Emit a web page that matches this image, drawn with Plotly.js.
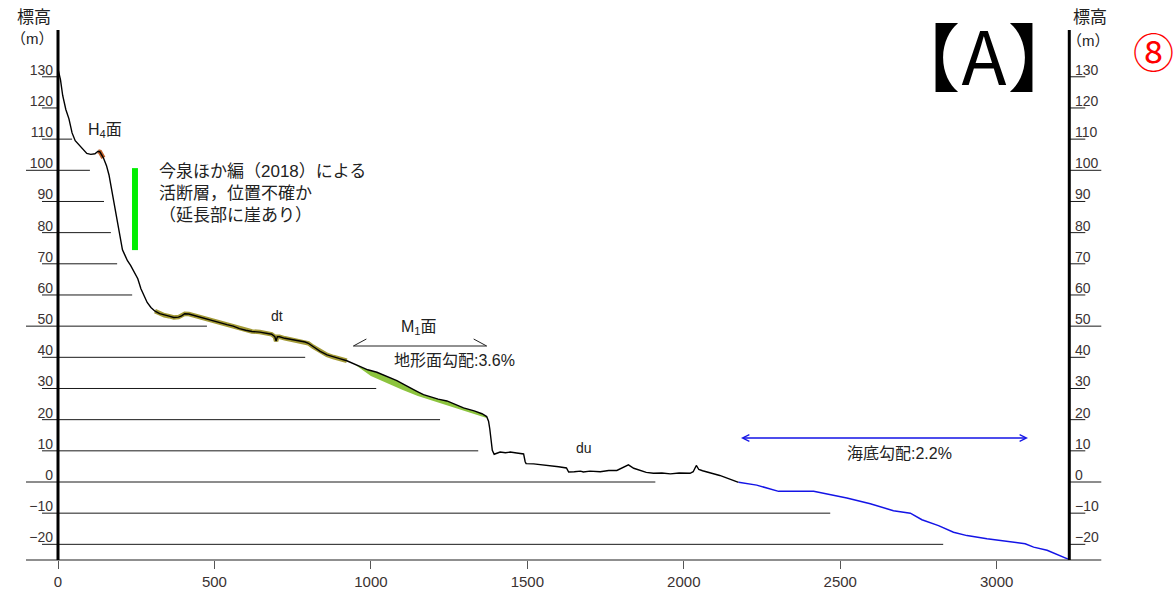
<!DOCTYPE html>
<html>
<head>
<meta charset="utf-8">
<script src="https://cdn.plot.ly/plotly-3.0.1.min.js"></script>
<style>
  html, body { margin: 0; padding: 0; background: #fff; }
  #chart { width: 1175px; height: 591px; }
</style>
</head>
<body>
<div id="chart"></div>
<script>
// Land surface profile: distance (m) and elevation (m)
const profileX = [0, 8, 15, 25, 35, 45, 55, 65, 80, 92, 105, 118, 128, 134, 145, 155, 163, 170, 178, 186, 194, 200, 206, 212, 222, 232, 245, 255, 265, 275, 285, 297, 310, 325, 340, 355, 370, 385, 395, 405, 418, 435, 455, 475, 500, 520, 540, 560, 580, 600, 620, 645, 665, 683, 693, 697, 701, 708, 725, 742, 765, 790, 800, 815, 838, 860, 880, 900, 923, 944, 965, 990, 1019, 1040, 1060, 1083, 1105, 1127, 1147, 1168, 1189, 1215, 1243, 1265, 1296, 1330, 1355, 1370, 1376, 1380, 1384, 1388, 1394, 1400, 1413, 1430, 1445, 1466, 1488, 1493, 1496, 1520, 1541, 1560, 1583, 1600, 1625, 1632, 1650, 1670, 1679, 1700, 1733, 1760, 1786, 1805, 1823, 1840, 1861, 1880, 1903, 1930, 1957, 1985, 2020, 2030, 2040, 2048, 2060, 2080, 2095, 2115, 2132, 2150, 2175];
const profileY = [132.5, 129, 124, 119.5, 116.5, 112, 109.5, 108.3, 106.8, 105.4, 105.1, 105.3, 106.1, 105.9, 104, 101.5, 98.5, 94.5, 90, 85, 80.5, 77, 74.5, 73.2, 71, 69.5, 67.3, 65.2, 62, 59.5, 57.6, 56, 54.8, 54, 53.5, 53.2, 52.8, 52.9, 53.3, 54, 53.9, 53.4, 52.9, 52.3, 51.7, 51.1, 50.5, 50, 49.2, 48.7, 48.3, 48.1, 47.8, 47.4, 46.6, 45.2, 46.6, 46.6, 46.1, 45.8, 45.4, 44.9, 44.5, 43.4, 41.9, 40.8, 40.1, 39.6, 38.9, 38, 36.9, 36, 35.2, 34.4, 33.4, 32.5, 31.3, 30, 29.1, 28, 27.3, 26.6, 26, 25, 23.8, 22.8, 21.9, 21, 19.5, 17, 13, 10.2, 8.9, 9.2, 9.6, 9.4, 9.6, 9.3, 9.0, 6.5, 5.9, 5.8, 5.6, 5.3, 5.1, 4.9, 4.5, 3.2, 3.3, 3.5, 3.2, 3.5, 3.3, 3.7, 3.7, 4.5, 5.5, 4.4, 3.6, 3.1, 2.8, 2.9, 2.6, 2.9, 2.8, 3.3, 5.3, 4.0, 3.6, 3.1, 2.6, 2.1, 1.5, 0.8, -0.1];

// Sea floor profile
const seabedX = [2175, 2233, 2303, 2415, 2521, 2596, 2670, 2724, 2761, 2814, 2862, 2905, 2969, 3091, 3118, 3161, 3232];
const seabedY = [-0.1, -1, -3, -3, -5.1, -7, -9.2, -10, -12.1, -14, -16.1, -17.2, -18.2, -19.8, -20.9, -21.9, -24.9];

// Base of the M1 terrace deposit
const m1BaseX = [944, 1000, 1050, 1100, 1150, 1200, 1250, 1300, 1370];
const m1BaseY = [38.0, 34.0, 31.7, 29.6, 27.6, 25.8, 24.4, 22.8, 20.5];

// Extents along the profile
const h4Range = [120, 150];
const dtRange = [310, 935];
const m1Span = [944, 1370];
const seabedSpan = [2178, 3100];

// Active fault (uncertain position)
const faultX = [246, 246];
const faultY = [100.7, 74.4];

// Elevation reference lines and their right ends
const levels = [130, 120, 110, 100, 90, 80, 70, 60, 50, 40, 30, 20, 10, 0, -10, -20];
const levelLineEnds = [0, 0, 45, 102, 147, 169, 189, 237, 476, 790, 1017, 1221, 1343, 1909, 2468, 2829];
const majorLevels = [100, 50, 0];
const xTicks = [0, 500, 1000, 1500, 2000, 2500, 3000];
const profileEnd = 3232;
const baseLevel = -25;
const topLevel = 145;

// ---- layout geometry (pixel scale of the figure) ----
const W = 1175, H = 591;
const pxPerX = 0.3129, pxPerY = 3.117;
const x0px = 58, y0px = 482;
const xMin = -x0px / pxPerX, xMax = (W - x0px) / pxPerX;
const yMin = (y0px - H) / pxPerY, yMax = y0px / pxPerY;
const dx = px => px / pxPerX;     // horizontal pixel length in data units
const dy = px => px / pxPerY;     // vertical pixel length in data units
const X = px => (px - x0px) / pxPerX;
const Y = py => (y0px - py) / pxPerY;

const LATIN = 'Liberation Sans, Arial, sans-serif';
const JP = 'Liberation Sans, Noto Sans CJK JP, sans-serif';
const CJK = 'Noto Sans CJK JP, sans-serif';
const TXT = '#222';
const TICK = '#3a3232';

function slice(xs, ys, lo, hi) {
  const sx = [], sy = [];
  xs.forEach((v, i) => { if (v >= lo && v <= hi) { sx.push(v); sy.push(ys[i]); } });
  return [sx, sy];
}

const [h4X, h4Y] = slice(profileX, profileY, h4Range[0], h4Range[1]);
const [dtX, dtY] = slice(profileX, profileY, dtRange[0], dtRange[1]);
const [m1TopX, m1TopY] = slice(profileX, profileY, m1Span[0], m1Span[1]);
const m1PolyX = m1TopX.concat(m1BaseX.slice().reverse());
const m1PolyY = m1TopY.concat(m1BaseY.slice().reverse());

const traces = [
  { x: m1PolyX, y: m1PolyY, mode: 'lines', fill: 'toself', fillcolor: '#8cc43e',
    line: { width: 0, color: '#8cc43e' }, hoverinfo: 'skip' },
  { x: h4X, y: h4Y, mode: 'lines', line: { color: '#c0622a', width: 4.5 }, hoverinfo: 'skip' },
  { x: dtX, y: dtY, mode: 'lines', line: { color: '#a39a36', width: 4.5 }, hoverinfo: 'skip' },
  { x: profileX, y: profileY, mode: 'lines', line: { color: '#000', width: 1.4 } },
  { x: seabedX, y: seabedY, mode: 'lines', line: { color: '#1414e6', width: 1.5 } },
  { x: faultX, y: faultY, mode: 'lines', line: { color: '#00ee00', width: 6 }, hoverinfo: 'skip' },
  { x: [null], y: [null], yaxis: 'y2', mode: 'lines', hoverinfo: 'skip' }
];

const shapes = [];
const ln = (x0, y0, x1, y1, color, width) =>
  shapes.push({ type: 'line', xref: 'x', yref: 'y', x0, y0, x1, y1, line: { color, width } });

levels.forEach((lv, i) => {
  const major = majorLevels.includes(lv);
  ln(major ? -dx(32) : -dx(16), lv, levelLineEnds[i], lv, '#1a1a1a', 1);
  ln(profileEnd, lv, profileEnd + (major ? dx(32) : dx(16)), lv, '#1a1a1a', 1);
});
// base line
ln(-dx(32), baseLevel, profileEnd + dx(32), baseLevel, '#6a6a6a', 1.5);
// vertical axes
ln(0, baseLevel, 0, topLevel, '#000', 3);
ln(profileEnd, baseLevel, profileEnd, topLevel, '#000', 3);
// M1 surface bracket
const by = Y(346), hookX = dx(13), hookY = dy(7);
shapes.push({ type: 'path', xref: 'x', yref: 'y',
  path: `M${m1Span[0] + hookX},${by + hookY} L${m1Span[0]},${by} L${m1Span[1]},${by} L${m1Span[1] - hookX},${by + hookY}`,
  line: { color: '#222', width: 1 } });

const ann = (text, x, y, size, opts = {}) => Object.assign({
  text, x, y, xref: 'x', yref: 'y', showarrow: false,
  font: { family: JP, size, color: TXT }, xanchor: 'center', yanchor: 'middle'
}, opts);
const pAnn = (text, px, py, size, opts = {}) =>
  ann(text, px / W, 1 - py / H, size, Object.assign({ xref: 'paper', yref: 'paper' }, opts));

const annotations = [
  pAnn('標高', 34, 18, 17),
  pAnn('（m）', 32, 39, 15),
  pAnn('標高', 1090, 18, 17),
  pAnn('（m）', 1088, 40, 15),
  ann('H<sub>4</sub>面', X(105), Y(130), 16),
  ann('今泉ほか編（2018）による<br>活断層，位置不確か<br>（延長部に崖あり）', X(157), Y(193), 17,
      { xanchor: 'left', align: 'left' }),
  ann('dt', X(277), Y(316), 14),
  ann('M<sub>1</sub>面', X(419), Y(327), 16),
  ann('地形面勾配:3.6%', X(454), Y(360), 16),
  ann('du', X(584), Y(448), 14),
  ann('海底勾配:2.2%', X(899), Y(453), 16),
  pAnn('【A】', 985, 53, 74, { font: { family: CJK, size: 74, color: '#000' } }),
  pAnn('⑧', 1153, 50, 41, { font: { family: CJK, size: 41, color: '#ff0000' } }),
  { x: seabedSpan[1], y: Y(438), ax: seabedSpan[0], ay: Y(438), xref: 'x', yref: 'y',
    axref: 'x', ayref: 'y', text: '', showarrow: true, arrowside: 'end+start',
    arrowhead: 5, startarrowhead: 5, arrowsize: 0.9, startarrowsize: 0.9,
    arrowwidth: 1.5, arrowcolor: '#1414e6', standoff: 0, startstandoff: 0 }
];

// The panel label uses proportional (half-width) brackets
const titleIndex = annotations.findIndex(a => a.text === '【A】');
const css = document.createElement('style');
css.textContent = `g.annotation[data-index="${titleIndex}"] text { font-feature-settings: "palt" 1; letter-spacing: 3px; }`;
document.head.appendChild(css);

const tickFont = { family: LATIN, size: 14, color: TICK };

const layout = {
  width: W, height: H,
  margin: { l: 0, r: 0, t: 0, b: 0 },
  paper_bgcolor: '#fff', plot_bgcolor: '#fff',
  showlegend: false,
  xaxis: {
    range: [xMin, xMax], domain: [0, 1], anchor: 'free', position: (H - 560) / H,
    tickvals: xTicks, ticks: 'outside', ticklen: 8, tickwidth: 1, tickcolor: '#555',
    showline: false, showgrid: false, zeroline: false,
    tickfont: { family: LATIN, size: 15, color: TICK }, fixedrange: true
  },
  yaxis: {
    range: [yMin, yMax], domain: [0, 1], anchor: 'free', position: x0px / W, side: 'left',
    tickvals: levels, ticks: '', showline: false, showgrid: false, zeroline: false,
    tickfont: tickFont, ticklabelshift: -7, ticklabelstandoff: 5, fixedrange: true
  },
  yaxis2: {
    range: [yMin, yMax], overlaying: 'y', anchor: 'free', position: 1069 / W, side: 'right',
    tickvals: levels, ticks: '', showline: false, showgrid: false, zeroline: false,
    tickfont: tickFont, ticklabelshift: -7, ticklabelstandoff: 5, fixedrange: true
  },
  shapes, annotations
};

Plotly.newPlot('chart', traces, layout, { staticPlot: true });
</script>
</body>
</html>
